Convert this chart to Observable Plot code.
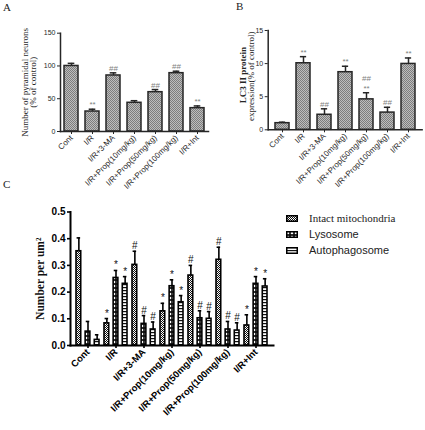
<!DOCTYPE html>
<html><head><meta charset="utf-8">
<script src="https://cdn.jsdelivr.net/npm/d3@7"></script>
<script src="https://cdn.jsdelivr.net/npm/@observablehq/plot@0.6"></script>
<style>
body{margin:0;background:#fff;}
#root{position:relative;width:425px;height:430px;overflow:hidden;background:#fff;font-family:"Liberation Sans",Arial,sans-serif;}
.plab{position:absolute;font-family:"Liberation Serif","Times New Roman",serif;font-size:11px;color:#222;line-height:11px;}
.leg{position:absolute;left:286px;top:210px;}
.leg .row{display:flex;align-items:center;height:16px;}
.leg svg{display:block;}
.leg span{margin-left:11px;font-size:11px;color:#222;white-space:nowrap;}
</style></head><body>
<svg width="0" height="0" style="position:absolute"><defs>
<pattern id="pGrey" patternUnits="userSpaceOnUse" width="2" height="2"><rect width="2" height="2" fill="#bdbdbd"/><rect width="1" height="1" fill="#7d7d7d"/><rect x="1" y="1" width="1" height="1" fill="#7d7d7d"/></pattern>
<pattern id="pMito" patternUnits="userSpaceOnUse" width="2" height="2"><rect width="2" height="2" fill="#fff"/><rect width="1" height="1" fill="#111"/><rect x="1" y="1" width="1" height="1" fill="#111"/></pattern>
<pattern id="pLyso" patternUnits="userSpaceOnUse" width="4" height="4"><rect width="4" height="4" fill="#111"/><circle cx="2" cy="2" r="1.3" fill="#fff"/></pattern>
<pattern id="pAuto" patternUnits="userSpaceOnUse" width="3" height="3"><rect width="3" height="3" fill="#fff"/><rect width="3" height="1.2" fill="#111"/></pattern>
</defs></svg>
<div id="root"></div>
<script>
// ---------- data ----------
const categories = ["Cont","I/R","I/R+3-MA","I/R+Prop(10mg/kg)","I/R+Prop(50mg/kg)","I/R+Prop(100mg/kg)","I/R+Int"];

// Panel A: number of pyramidal neurons (% of control)
const neuronValues = [100, 30.5, 85.5, 43.8, 60, 89, 35.6];
const neuronSem    = [4, 3.5, 4, 3.2, 4, 3, 3.4];
const neuronMarks  = ["", "**", "##", "", "##", "##", "**"];
const neuronTicks  = [0, 50, 100, 150];

// Panel B: LC3 II protein expression (% of control)
const lc3Values = [1.0, 10.05, 2.27, 8.7, 4.6, 2.6, 9.95];
const lc3Sem    = [0.15, 1.0, 0.9, 0.9, 1.0, 0.8, 0.9];
const lc3Marks  = ["", "**", "##", "**", "##\n**", "##", "**"];
const lc3Ticks  = [0, 5, 10, 15];

// Panel C: number per um^2
const series = ["Intact mitochondria", "Lysosome", "Autophagosome"];
const mitoValues = [0.353, 0.083, 0.302, 0.128, 0.262, 0.321, 0.075];
const mitoSem    = [0.05, 0.018, 0.051, 0.03, 0.038, 0.047, 0.04];
const mitoMarks  = ["", "*", "#", "*", "#", "#", "*"];
const lysoValues = [0.052, 0.253, 0.081, 0.222, 0.102, 0.06, 0.231];
const lysoSem    = [0.038, 0.028, 0.031, 0.024, 0.028, 0.03, 0.027];
const lysoMarks  = ["", "*", "#", "*", "#", "#", "*"];
const autoValues = [0.021, 0.231, 0.06, 0.162, 0.10, 0.056, 0.221];
const autoSem    = [0.019, 0.027, 0.028, 0.025, 0.027, 0.029, 0.029];
const autoMarks  = ["", "*", "#", "*", "#", "#", "*"];
const cTicks = [0, 0.1, 0.2, 0.3, 0.4, 0.5];

// ---------- helpers ----------
const root = document.getElementById("root");
function place(el, left, top) {
  el.style.position = "absolute";
  el.style.left = left + "px";
  el.style.top = top + "px";
  root.appendChild(el);
  return el;
}
const SANS = "Liberation Sans, Arial, sans-serif";
const SERIF = "Liberation Serif, Times New Roman, serif";
const INK = "#262626";

function simplePanel(cfg) {
  const data = categories.map((c, i) => ({cat: c, v: cfg.values[i], e: cfg.sem[i], m: cfg.marks[i]}));
  const bw = d3.scaleBand().domain(categories)
    .range([cfg.ml, cfg.width - cfg.mr]).paddingInner(cfg.pi).paddingOuter(cfg.po).bandwidth();
  const capInset = (bw - 7) / 2;
  return Plot.plot({
    width: cfg.width, height: cfg.height,
    marginLeft: cfg.ml, marginRight: cfg.mr, marginTop: cfg.mt, marginBottom: cfg.mb,
    style: {fontFamily: SANS, fontSize: "8px", color: INK, background: "transparent", overflow: "visible"},
    x: {domain: categories, paddingInner: cfg.pi, paddingOuter: cfg.po, label: null},
    y: {domain: [0, cfg.yMax], label: null},
    marks: [
      Plot.barY(data, {x: "cat", y: "v", fill: "url(#pGrey)", stroke: INK, strokeWidth: 1.5}),
      Plot.ruleX(data, {x: "cat", y1: "v", y2: d => d.v + d.e, stroke: INK, strokeWidth: 1.5}),
      Plot.tickY(data, {x: "cat", y: d => d.v + d.e, stroke: INK, strokeWidth: 1.5, insetLeft: capInset, insetRight: capInset}),
      Plot.text(data, {x: "cat", y: d => d.v + d.e, text: "m", lineAnchor: "bottom", dy: -2, fill: "#808080", fontSize: 8, lineHeight: 1.2}),
      Plot.axisY({ticks: cfg.yTicks, tickSize: 3, tickPadding: 2, fontSize: 7, label: null}),
      Plot.axisX({tickSize: 3, tickPadding: 2, tickRotate: -45, fontSize: 8, label: null}),
      Plot.frame({anchor: "left", stroke: INK, strokeWidth: 1.5}),
      Plot.frame({anchor: "bottom", stroke: INK, strokeWidth: 1.5}),
      ...cfg.ylab.map(l => Plot.text([l.text], {frameAnchor: "left", textAnchor: "middle", lineAnchor: "middle",
        dx: l.dx, dy: l.dy || 0, rotate: -90,
        fontFamily: SERIF, fontSize: 9, fontWeight: l.bold ? "bold" : "normal", fill: INK}))
    ]
  });
}

// ---------- panel A ----------
place(simplePanel({
  values: neuronValues, sem: neuronSem, marks: neuronMarks, yMax: 150, yTicks: neuronTicks,
  width: 215, height: 200, ml: 60, mr: 7, mt: 32.7, mb: 69, pi: 0.32, po: 0.16,
  ylab: [{text: "Number of pyramidal neurons", dx: -35}, {text: "(% of control)", dx: -27}]
}), 0, 0);

// ---------- panel B ----------
place(simplePanel({
  values: lc3Values, sem: lc3Sem, marks: lc3Marks, yMax: 15, yTicks: lc3Ticks,
  width: 215, height: 200, ml: 57.7, mr: 3.4, mt: 30, mb: 70.7, pi: 0.32, po: 0.21,
  ylab: [{text: "LC3 II protein", dx: -24.7, dy: -5, bold: true}, {text: "expression(% of control)", dx: -16.7, dy: -4}]
}), 210, 0);

// ---------- panel C ----------
const cW = 280, cH = 230, cML = 70, cMR = 7, cMT = 11.5, cMB = 85, cPi = 0.19, cPo = 0.11;
const cBw = d3.scaleBand().domain(categories).range([cML, cW - cMR]).paddingInner(cPi).paddingOuter(cPo).bandwidth();
const sub = d3.scaleBand().domain(series).range([0, cBw]).paddingInner(0.44);
const cSeries = [
  {name: series[0], values: mitoValues, sem: mitoSem, marks: mitoMarks, fill: "url(#pMito)"},
  {name: series[1], values: lysoValues, sem: lysoSem, marks: lysoMarks, fill: "url(#pLyso)"},
  {name: series[2], values: autoValues, sem: autoSem, marks: autoMarks, fill: "url(#pAuto)"}
];
const cMarks = cSeries.flatMap(s => {
  const data = categories.map((c, i) => ({cat: c, v: s.values[i], e: s.sem[i], m: s.marks[i]}));
  const l = sub(s.name), w = sub.bandwidth();
  const r = cBw - l - w;
  const dx = l + w / 2 - cBw / 2;
  return [
    Plot.barY(data, {x: "cat", y: "v", fill: s.fill, stroke: "#000", strokeWidth: 1.6, insetLeft: l, insetRight: r}),
    Plot.ruleX(data, {x: "cat", y1: "v", y2: d => d.v + d.e, dx, stroke: "#000", strokeWidth: 1.6}),
    Plot.tickY(data, {x: "cat", y: d => d.v + d.e, stroke: "#000", strokeWidth: 1.6, insetLeft: l + 0.6, insetRight: r + 0.6}),
    Plot.text(data, {x: "cat", y: d => d.v + d.e, text: "m", dx, lineAnchor: "bottom", dy: -2, fill: "#111", fontSize: 10})
  ];
});
place(Plot.plot({
  width: cW, height: cH, marginLeft: cML, marginRight: cMR, marginTop: cMT, marginBottom: cMB,
  style: {fontFamily: SANS, fontSize: "10px", color: "#000", background: "transparent", overflow: "visible"},
  x: {domain: categories, paddingInner: cPi, paddingOuter: cPo, label: null},
  y: {domain: [0, 0.5], label: null},
  marks: [
    ...cMarks,
    Plot.axisY({ticks: cTicks, tickFormat: d => d.toFixed(1), tickSize: 3, tickPadding: 2, fontSize: 10, fontWeight: "bold", label: null, strokeWidth: 1.6}),
    Plot.axisX({tickSize: 3, tickPadding: 2, tickRotate: -45, fontSize: 9.5, fontWeight: "bold", label: null, strokeWidth: 1.6}),
    Plot.frame({anchor: "left", stroke: "#000", strokeWidth: 2}),
    Plot.frame({anchor: "bottom", stroke: "#000", strokeWidth: 2}),
    Plot.text(["Number per um²"], {frameAnchor: "left", textAnchor: "middle", lineAnchor: "middle", dx: -30, rotate: -90,
      fontFamily: SERIF, fontWeight: "bold", fontSize: 11.5, fill: "#111"})
  ]
}), 0, 200);

// ---------- legend for C ----------
const leg = document.createElement("div");
leg.className = "leg";
cSeries.forEach((s, k) => {
  const row = document.createElement("div");
  row.className = "row";
  row.innerHTML = `<svg width="12" height="7"><rect x="0.75" y="0.75" width="10.5" height="5.5" fill="${s.fill}" stroke="#000" stroke-width="1.5"/></svg>`;
  const sp = document.createElement("span");
  sp.textContent = s.name;
  sp.style.fontFamily = k === 0 ? SERIF : SANS;
  row.appendChild(sp);
  leg.appendChild(row);
});
root.appendChild(leg);

// ---------- panel letters ----------
[["A", 3, 2], ["B", 236, 1], ["C", 3, 179]].forEach(([t, x, y]) => {
  const d = document.createElement("div");
  d.className = "plab";
  d.textContent = t;
  d.style.left = x + "px";
  d.style.top = y + "px";
  root.appendChild(d);
});
</script>
</body></html>
